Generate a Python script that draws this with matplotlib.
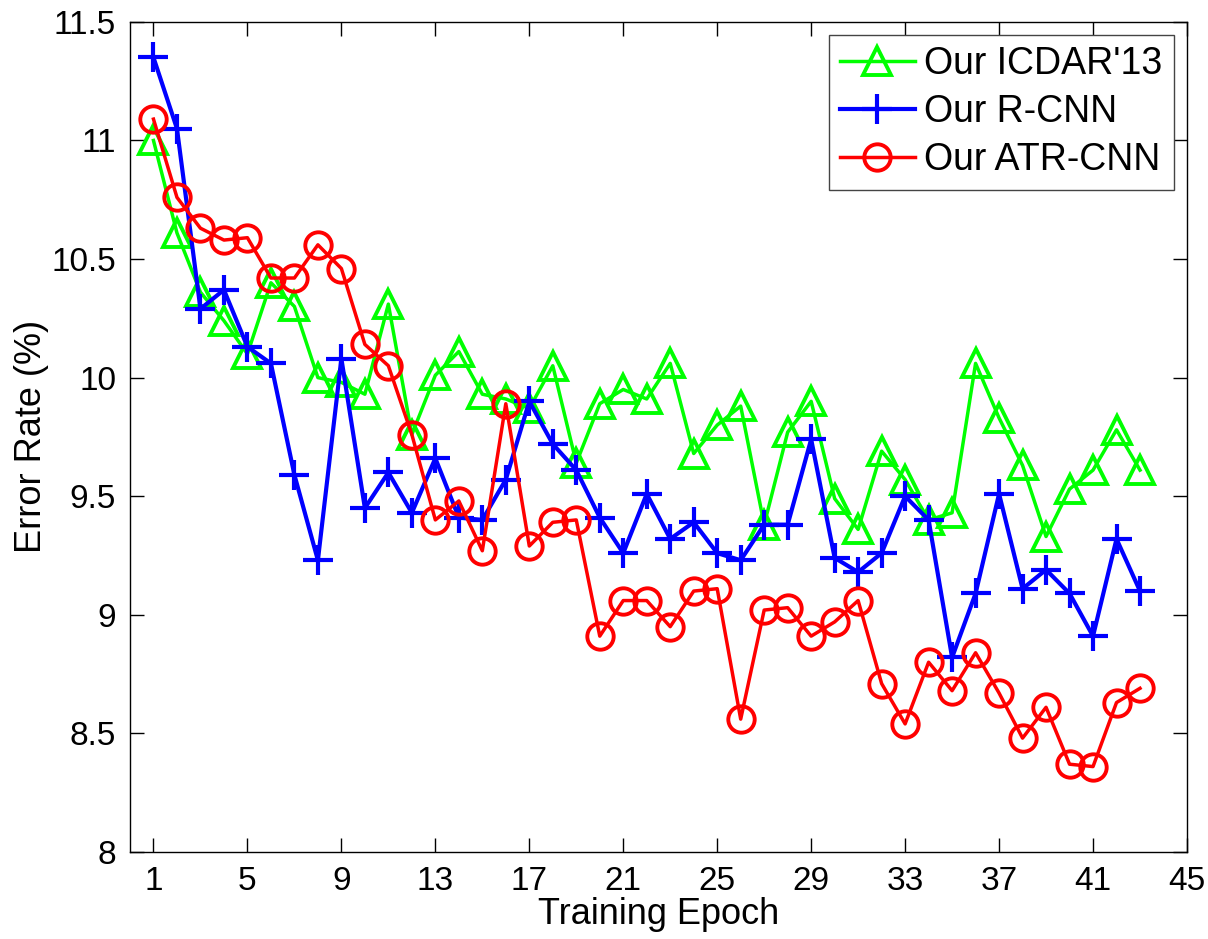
import numpy as np
import matplotlib.pyplot as plt

plt.rcParams['font.family'] = ['Liberation Sans', 'DejaVu Sans']

epochs = np.arange(1, 44)

icdar13 = [11.00, 10.61, 10.36, 10.24, 10.10, 10.40, 10.30, 10.00, 9.98, 9.93,
           10.31, 9.76, 10.01, 10.11, 9.93, 9.91, 9.87, 10.05, 9.64, 9.89,
           9.95, 9.91, 10.06, 9.68, 9.80, 9.88, 9.38, 9.77, 9.90, 9.49,
           9.36, 9.69, 9.57, 9.40, 9.43, 10.06, 9.83, 9.63, 9.33, 9.53,
           9.61, 9.78, 9.61]

rcnn = [11.35, 11.05, 10.29, 10.37, 10.13, 10.06, 9.59, 9.23, 10.08, 9.45,
        9.60, 9.43, 9.66, 9.41, 9.40, 9.57, 9.90, 9.72, 9.61, 9.41,
        9.26, 9.51, 9.32, 9.39, 9.26, 9.23, 9.38, 9.38, 9.74, 9.24,
        9.18, 9.26, 9.50, 9.40, 8.82, 9.09, 9.51, 9.11, 9.19, 9.09,
        8.91, 9.32, 9.10]

atr_cnn = [11.09, 10.76, 10.63, 10.58, 10.59, 10.42, 10.42, 10.56, 10.46, 10.14,
           10.05, 9.76, 9.40, 9.48, 9.27, 9.89, 9.29, 9.39, 9.40, 8.91,
           9.06, 9.06, 8.95, 9.10, 9.11, 8.56, 9.02, 9.03, 8.91, 8.97,
           9.06, 8.71, 8.54, 8.80, 8.68, 8.84, 8.67, 8.48, 8.61, 8.37,
           8.36, 8.63, 8.69]

labels = ["Our ICDAR'13", "Our R-CNN", "Our ATR-CNN"]

fig = plt.figure(figsize=(12.08, 9.39), dpi=100)
ax = fig.add_axes([0.1076, 0.0927, 0.875, 0.884])

ax.plot(epochs, icdar13, '-^', color='#00ff00', lw=2.5, ms=20, mew=2.8,
        mfc='none', label=labels[0])
ax.plot(epochs, rcnn, '-+', color='#0000ff', lw=3, ms=22, mew=3,
        label=labels[1])
ax.plot(epochs, atr_cnn, '-o', color='#ff0000', lw=2.5, ms=19, mew=2.8,
        mfc='none', label=labels[2])

ax.set_xlim(0, 45)
ax.set_ylim(8, 11.5)
ax.set_xticks(np.arange(1, 46, 4))
ax.set_yticks([8, 8.5, 9, 9.5, 10, 10.5, 11, 11.5])
ax.set_yticklabels(['8', '8.5', '9', '9.5', '10', '10.5', '11', '11.5'])
ax.tick_params(direction='in', length=10, width=1, top=True, right=True,
               labelsize=24, pad=10)
for s in ax.spines.values():
    s.set_linewidth(1)

ax.set_xlabel('Training Epoch', fontsize=26, labelpad=0)
ax.set_ylabel('Error Rate (%)', fontsize=26, labelpad=2)

leg = ax.legend(loc='upper right', fontsize=27, fancybox=False,
                edgecolor='#444444', framealpha=1, borderpad=0.3,
                handlelength=2.0, handletextpad=0.25, labelspacing=0.32,
                borderaxespad=0.35)
leg.get_frame().set_linewidth(1)

fig.savefig('out.png', dpi=100)
